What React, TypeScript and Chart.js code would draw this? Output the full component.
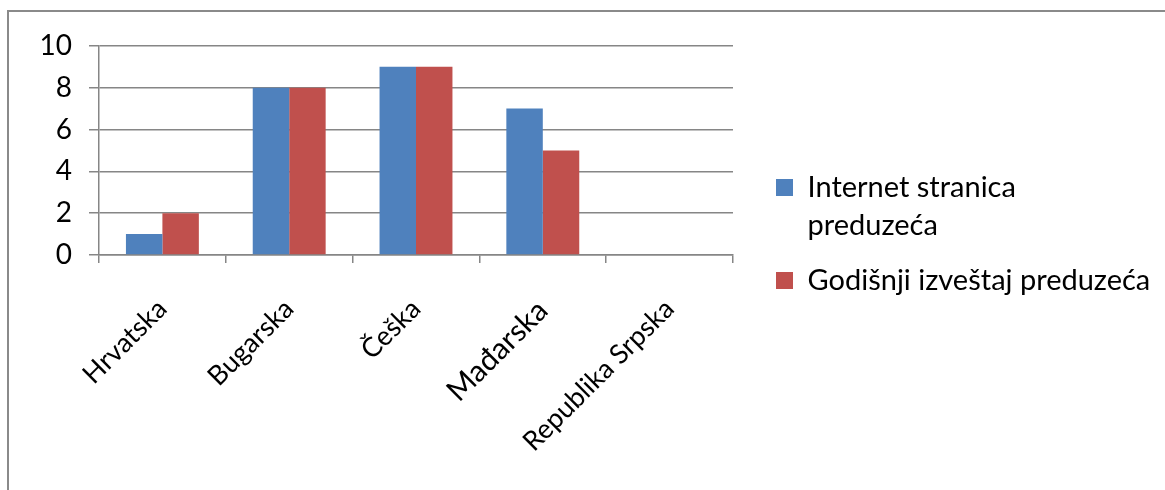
import { useEffect, useRef } from "react";
import { Chart, registerables } from "chart.js";

Chart.register(...registerables);

const categories = ["Hrvatska", "Bugarska", "Češka", "Mađarska", "Republika Srpska"];
const internetStranica = [1, 8, 9, 7, 0];
const godisnjiIzvestaj = [2, 8, 9, 5, 0];
const seriesLabels = ["Internet stranica preduzeća", "Godišnji izveštaj preduzeća"];
const legendTexts: (string | string[])[] = [["Internet stranica", "preduzeća"], "Godišnji izveštaj preduzeća"];
const yMin = 0;
const yMax = 10;
const yStep = 2;

const FONT = "Lato";
const FS = 29;
const LEG_PAD = 17;
const CANVAS_W = 1156;
const CANVAS_H = 478;
const AREA_TOP = 31;
const AREA_BOTTOM = 243;
const AREA_LEFT = 90;

export default function App() {
  const ref = useRef<HTMLCanvasElement | null>(null);
  useEffect(() => {
    if (!ref.current) return;
    const mctx = document.createElement("canvas").getContext("2d")!;
    mctx.font = `${FS}px ${FONT}`;
    const textW = Math.max(
      mctx.measureText("Godišnji izveštaj preduzeća").width,
      mctx.measureText("Internet stranica").width
    );
    // legend left edge at canvas x 750; legend width = pad + box + fs/2 + text + 10
    const legendW = LEG_PAD + 17 + FS / 2 + textW + 10;
    const padR = Math.max(0, CANVAS_W - 750 - legendW);
    const chart = new Chart(ref.current, {
      type: "bar",
      data: {
        labels: categories,
        datasets: [
          { label: seriesLabels[0], data: internetStranica, backgroundColor: "#4F81BD", borderWidth: 0 },
          { label: seriesLabels[1], data: godisnjiIzvestaj, backgroundColor: "#C0504D", borderWidth: 0 },
        ],
      },
      options: {
        animation: false,
        responsive: false,
        maintainAspectRatio: false,
        layout: { padding: { left: 0, top: AREA_TOP, right: padR, bottom: 0 } },
        datasets: { bar: { categoryPercentage: 0.575, barPercentage: 1 } },
        plugins: {
          tooltip: { enabled: false },
          legend: {
            position: "right",
            align: "start",
            maxWidth: 700,
            title: { display: true, text: "", padding: { top: 112, bottom: 0 }, font: { size: 1, lineHeight: 1 } },
            labels: {
              boxWidth: 17,
              boxHeight: 17,
              padding: LEG_PAD,
              color: "#000",
              font: { family: FONT, size: FS, lineHeight: 38 / FS },
              generateLabels: (c: any) => {
                const items = Chart.defaults.plugins.legend.labels.generateLabels(c);
                return items.map((it: any, i: number) => ({ ...it, text: legendTexts[i], lineWidth: 0 }));
              },
            },
          },
        },
        scales: {
          x: {
            offset: true,
            grid: { display: true, drawOnChartArea: false, drawTicks: true, tickLength: 8, color: "#868686", lineWidth: 1.5, offset: true },
            border: { display: true, color: "#868686", width: 1.5 },
            ticks: {
              maxRotation: 45,
              minRotation: 45,
              autoSkip: false,
              padding: 30,
              color: "#000",
              font: (ctx: any) => ({ family: FONT, size: ctx.index === 3 ? 30 : 27 }),
            },
            afterFit: (s: any) => {
              s.height = CANVAS_H - AREA_BOTTOM;
            },
          },
          y: {
            min: yMin,
            max: yMax,
            grid: { color: "#868686", lineWidth: 1.5, tickLength: 10 },
            border: { display: true, color: "#868686", width: 1.5 },
            ticks: { stepSize: yStep, padding: 17, color: "#000", font: { family: FONT, size: 28 } },
            afterFit: (s: any) => {
              s.width = AREA_LEFT;
            },
          },
          gap: {
            type: "linear",
            position: "right",
            display: true,
            grid: { display: false, drawTicks: false },
            border: { display: false },
            ticks: { display: false },
            afterFit: (s: any) => {
              s.width = 26;
            },
          },
        },
      },
    });
    return () => chart.destroy();
  }, []);
  return (
    <div
      style={{
        position: "fixed",
        left: 7,
        top: 10,
        width: 1300,
        height: 600,
        borderLeft: "2px solid #8a8a8a",
        borderTop: "2px solid #8a8a8a",
        background: "#fff",
      }}
    >
      <canvas ref={ref} width={CANVAS_W} height={CANVAS_H} style={{ display: "block", width: CANVAS_W, height: CANVAS_H }} />
    </div>
  );
}
